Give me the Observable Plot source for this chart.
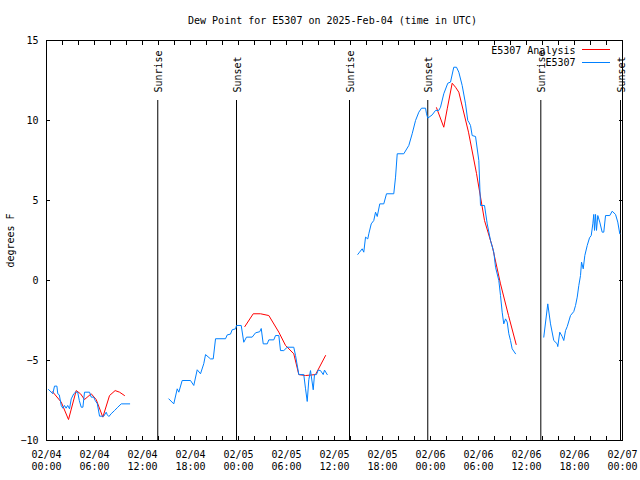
<!DOCTYPE html>
<html><head><meta charset="utf-8">
<script src="https://cdn.jsdelivr.net/npm/d3@7"></script>
<script src="https://cdn.jsdelivr.net/npm/@observablehq/plot@0.6"></script>
<style>body{margin:0;background:#fff} svg{display:block}</style>
</head><body><div id="chart"></div>
<script>
const titleText = "Dew Point for E5307 on 2025-Feb-04 (time in UTC)";
const yLabel = "degrees F";
const startUTC = Date.UTC(2025, 1, 4);
const spanHours = 72;
const yDomain = [-10, 15];
const yTicks = [-10, -5, 0, 5, 10, 15];

// E5307 observations: hours since 02/04 00:00 UTC, degrees F (null = gap)
const obsHours = [
  0.25,0.79,1.0,1.3,1.41,1.6,1.84,2.04,2.25,2.45,2.65,2.88,3.09,3.41,3.63,3.9,4.1,4.34,4.55,4.75,5.38,5.59,5.9,6.09,6.35,6.63,7.16,7.46,7.6,7.8,8.08,8.5,8.91,9.34,10.4,
  10.5,
  15.29,15.91,16.34,16.54,16.96,18.0,18.41,18.84,19.25,19.66,19.88,20.5,20.84,21.13,22.38,22.59,23.0,23.21,23.63,23.75,24.34,24.66,25.0,25.71,26.13,26.66,26.84,27.09,27.59,27.79,28.41,28.63,29.04,29.25,29.66,30.09,30.91,31.13,31.54,32.16,32.38,32.59,32.79,33.0,33.34,33.5,33.75,33.96,34.25,34.59,34.75,35.09,
  35.2,
  38.91,39.13,39.46,39.66,39.88,40.16,40.29,40.59,40.91,41.13,41.34,41.66,42.16,42.5,43.41,43.63,43.84,44.66,45.29,45.71,46.13,46.54,46.88,47.38,47.5,47.66,48.21,48.63,49.04,49.25,49.66,50.16,50.5,50.91,51.25,51.54,51.96,52.38,52.66,52.79,53.0,53.21,53.63,54.04,54.25,54.75,55.09,55.5,55.91,56.13,56.54,56.75,56.96,57.16,57.38,57.59,57.79,58.0,58.21,58.63,
  58.7,
  62.16,62.66,63.0,63.41,63.84,63.91,64.16,64.46,64.66,64.88,65.09,65.5,65.91,66.13,66.34,66.54,66.75,66.88,67.09,67.29,67.59,67.88,68.09,68.29,68.41,68.5,68.63,68.75,68.91,69.16,69.46,69.66,69.88,70.41,70.71,71.13,71.41,71.66
];
const obsValues = [
  -6.81,-7.08,-6.6,-6.6,-7.08,-7.15,-7.81,-7.98,-7.81,-7.98,-7.81,-8.02,-7.4,-7.08,-6.98,-6.98,-7.5,-7.92,-7.92,-6.98,-6.98,-7.29,-7.29,-7.5,-7.7,-8.48,-8.48,-8.23,-8.4,-8.5,-8.33,-8.13,-7.92,-7.71,-7.71,
  null,
  -7.4,-7.71,-6.77,-6.98,-6.25,-6.25,-6.56,-5.58,-5.83,-5.2,-4.63,-4.9,-4.9,-3.64,-3.64,-3.4,-3.35,-3.08,-3.02,-2.81,-2.81,-3.86,-3.54,-3.54,-3.27,-3.2,-3.0,-3.96,-3.96,-3.71,-3.71,-3.44,-3.44,-4.38,-4.38,-4.17,-4.17,-4.69,-5.88,-5.88,-6.77,-7.56,-6.2,-5.63,-6.83,-5.88,-5.88,-5.6,-5.63,-5.88,-5.6,-5.88,
  null,
  1.63,1.77,1.98,1.77,2.71,2.6,2.92,3.54,3.75,4.27,4.0,4.79,4.79,5.42,5.42,6.46,7.92,7.92,8.44,9.17,10.0,10.52,10.77,10.77,10.42,10.15,10.35,10.63,10.63,10.83,11.67,12.33,12.4,13.33,13.33,13.02,12.19,11.04,10.0,9.9,9.69,9.06,9.0,7.5,4.69,4.69,3.54,2.5,1.77,0.83,0.0,-0.94,-1.98,-2.71,-2.4,-2.6,-3.33,-3.75,-4.27,-4.58,
  null,
  -3.54,-1.46,-2.71,-3.75,-3.96,-4.13,-3.23,-3.5,-3.75,-3.13,-2.88,-2.19,-1.94,-1.56,-1.04,-0.31,0.31,1.15,0.73,1.56,2.19,2.67,2.81,3.54,4.13,3.13,4.13,3.13,4.06,3.65,3.02,3.02,4.06,4.06,4.33,4.13,3.65,2.92
];

// E5307 Analysis
const anaHours = [
  0.75,1.84,2.75,3.71,4.25,4.75,5.59,6.21,7.04,7.88,8.58,9.13,9.75,
  10,
  24.79,25.84,26.75,27.79,29.04,29.88,30.91,31.54,32.38,33.63,34.88,
  35,
  48.75,49.66,50.09,50.71,51.13,51.54,52.75,53.75,54.75,55.75,56.75,57.75,58.71
];
const anaValues = [
  -6.95,-7.6,-8.69,-6.88,-7.08,-7.44,-7.08,-7.44,-8.54,-7.19,-6.88,-6.98,-7.19,
  null,
  -2.88,-2.08,-2.08,-2.19,-3.23,-4.06,-4.58,-5.88,-5.94,-5.88,-4.69,
  null,
  10.8,9.58,10.73,12.33,12.08,11.77,9.27,6.69,3.75,2.08,-0.21,-2.19,-4.0
];

const eventHours = [13.91, 23.75, 37.875, 47.66, 61.79, 71.75];
const eventNames = ["Sunrise", "Sunset", "Sunrise", "Sunset", "Sunrise", "Sunset"];
const eventLineTop = 11.25;
const eventLabelLevel = 11.75;

const seriesNames = ["E5307 Analysis", "E5307"];
const seriesColors = ["#ff0000", "#0080ff"];

const toDate = h => new Date(startUTC + h * 3600e3);
const obs = obsHours.map((h, i) => ({t: toDate(h), v: obsValues[i]}));
const ana = anaHours.map((h, i) => ({t: toDate(h), v: anaValues[i]}));
const events = eventHours.map((h, i) => ({t: toDate(h), name: eventNames[i]}));

const W = 640, H = 480, mL = 46, mR = 18, mT = 40, mB = 40;

const chart = Plot.plot({
  width: W, height: H,
  marginLeft: mL, marginRight: mR, marginTop: mT, marginBottom: mB,
  style: {fontFamily: "'DejaVu Sans Mono', monospace", fontSize: "10px", color: "#000", background: "#fff"},
  x: {type: "utc", domain: [toDate(0), toDate(spanHours)]},
  y: {domain: yDomain},
  marks: [
    Plot.ruleX(events, {x: "t", y1: yDomain[0], y2: eventLineTop, stroke: "#000", strokeWidth: 1}),
    Plot.text(events, {x: "t", y: () => eventLabelLevel, text: "name", rotate: -90, textAnchor: "start", lineAnchor: "middle", dx: 1}),
    Plot.line(ana, {x: "t", y: "v", stroke: seriesColors[0], strokeWidth: 1}),
    Plot.line(obs, {x: "t", y: "v", stroke: seriesColors[1], strokeWidth: 1}),
    Plot.frame({stroke: "#000"}),
    Plot.axisX({ticks: d3.utcHour.every(2), tickSize: -4, tickFormat: () => "", label: null}),
    Plot.axisX({anchor: "top", ticks: d3.utcHour.every(2), tickSize: -4, tickFormat: () => "", label: null}),
    Plot.axisX({ticks: d3.utcHour.every(6), tickSize: 0, tickPadding: 9, tickFormat: d3.utcFormat("%m/%d\n%H:%M"), label: null, lineHeight: 1.2}),
    Plot.axisY({ticks: yTicks, tickSize: -4, tickFormat: () => "", label: null}),
    Plot.axisY({anchor: "right", ticks: yTicks, tickSize: -4, tickFormat: () => "", label: null}),
    Plot.axisY({ticks: yTicks, tickSize: 0, tickPadding: 8, label: yLabel, labelAnchor: "center", labelArrow: "none", labelOffset: 40}),
    Plot.text([titleText], {frameAnchor: "top", dy: -20, dx: -2, lineAnchor: "middle", text: d => d}),
    Plot.text([seriesNames[0]], {frameAnchor: "top-right", dx: -47, dy: 10, lineAnchor: "middle", textAnchor: "end", text: d => d}),
    Plot.text([seriesNames[1]], {frameAnchor: "top-right", dx: -47, dy: 22, lineAnchor: "middle", textAnchor: "end", text: d => d})
  ]
});

// legend swatches
const svg = d3.select(chart);
const right = W - mR;
seriesColors.forEach((c, i) => {
  svg.append("line")
    .attr("x1", right - 40).attr("x2", right - 12)
    .attr("y1", mT + 9.5 + 13 * i).attr("y2", mT + 9.5 + 13 * i)
    .attr("stroke", c).attr("stroke-width", 1);
});
document.getElementById("chart").appendChild(chart);
</script>
</body></html>
